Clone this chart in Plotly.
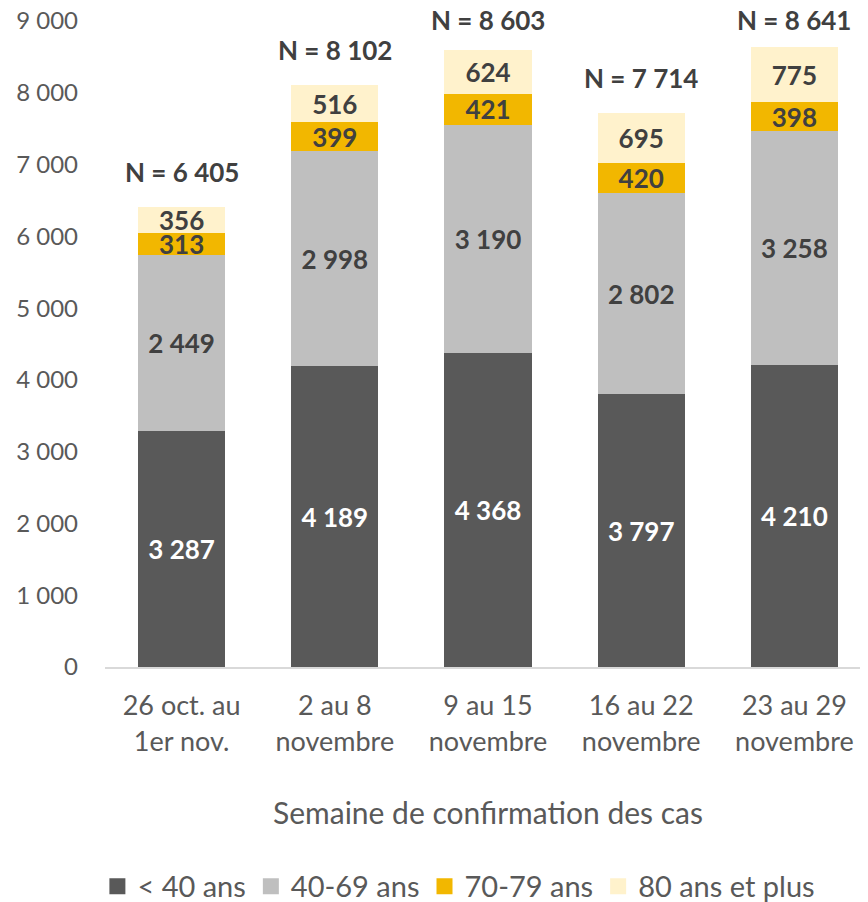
import plotly.graph_objects as go

categories = ["26 oct. au<br>1er nov.", "2 au 8<br>novembre", "9 au 15<br>novembre",
              "16 au 22<br>novembre", "23 au 29<br>novembre"]
series_names = ["< 40 ans", "40-69 ans", "70-79 ans", "80 ans et plus"]
under_40 = [3287, 4189, 4368, 3797, 4210]
age_40_69 = [2449, 2998, 3190, 2802, 3258]
age_70_79 = [313, 399, 421, 420, 398]
age_80_plus = [356, 516, 624, 695, 775]
totals = [6405, 8102, 8603, 7714, 8641]

colors = ["#595959", "#bfbfbf", "#f2b700", "#fff2cc"]
text_colors = ["#ffffff", "#404040", "#404040", "#404040"]
FONT = "Lato"

W, H = 863, 894
M_L, M_R, M_T, M_B = 97, 0, 13, 235
YMAX = 9000
plot_h = H - M_T - M_B

fig = go.Figure()
for name, vals, c, tc in zip(series_names, [under_40, age_40_69, age_70_79, age_80_plus], colors, text_colors):
    fig.add_trace(go.Bar(
        name=name, x=categories, y=vals,
        marker=dict(color=c, line=dict(width=0)),
        text=vals, texttemplate="<b>%{text:,d}</b>",
        textposition="inside", insidetextanchor="middle",
        constraintext="none",
        textfont=dict(color=tc, size=26, family=FONT),
        hoverinfo="skip", showlegend=False,
    ))
# legend entries with larger square swatches
for name, c in zip(series_names, colors):
    fig.add_trace(go.Scatter(
        name=name, x=[None], y=[None], mode="markers",
        marker=dict(symbol="square", size=18, color=c),
        showlegend=True, hoverinfo="skip",
    ))

for cat, t in zip(categories, totals):
    top_px = M_T + (YMAX - t) * plot_h / YMAX
    shift = min(35, top_px - 12)
    fig.add_annotation(x=cat, y=t, text="<b>N = " + f"{t:,d}".replace(",", " ") + "</b>",
                       showarrow=False, yanchor="middle", yshift=shift,
                       font=dict(size=26, color="#404040", family=FONT))

fig.update_layout(
    width=W, height=H,
    barmode="stack", bargap=0.43,
    separators=", ",
    paper_bgcolor="white", plot_bgcolor="white",
    font=dict(family=FONT, size=23, color="#595959"),
    margin=dict(l=M_L, r=M_R, t=M_T, b=M_B, autoexpand=False),
    xaxis=dict(showline=True, linecolor="#d9d9d9", linewidth=2, ticks="", automargin=False,
               tickfont=dict(size=27, color="#595959"), ticklabelstandoff=14,
               title=dict(text="Semaine de confirmation des cas", font=dict(size=30, color="#595959"), standoff=47)),
    yaxis=dict(range=[0, YMAX], dtick=1000, tickformat=",d", showgrid=False, zeroline=False, automargin=False,
               showline=False, ticks="", tickfont=dict(size=24, color="#595959"), ticklabelstandoff=26,
               ticklabeloverflow="allow"),
    legend=dict(orientation="h", x=0.462, xanchor="center", y=-0.30, yanchor="top",
                font=dict(size=29, color="#595959"), traceorder="normal", itemwidth=30),
    showlegend=True,
)

fig.write_html("out.html")
